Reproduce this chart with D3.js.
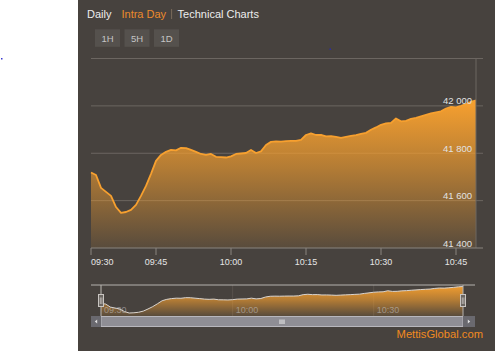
<!DOCTYPE html>
<html>
<head>
<meta charset="utf-8">
<script src="https://cdn.jsdelivr.net/npm/d3@7"></script>
<style>
  html, body { margin: 0; padding: 0; background: #fff; }
  svg { display: block; font-family: "Liberation Sans", Arial, sans-serif; }
</style>
</head>
<body>
<div id="chart"></div>
<script>
// intraday minutes (ordinal axis, two minutes missing early on)
const times = [
  "09:30","09:31","09:32","09:33","09:34","09:35","09:38","09:39","09:40","09:41","09:42","09:43","09:44",
  "09:45","09:46","09:47","09:48","09:49","09:50","09:51","09:52","09:53","09:54","09:55","09:56","09:57","09:58","09:59",
  "10:00","10:01","10:02","10:03","10:04","10:05","10:06","10:07","10:08","10:09","10:10","10:11","10:12","10:13","10:14",
  "10:15","10:16","10:17","10:18","10:19","10:20","10:21","10:22","10:23","10:24","10:25","10:26","10:27","10:28","10:29",
  "10:30","10:31","10:32","10:33","10:34","10:35","10:36","10:37","10:38","10:39","10:40","10:41","10:42","10:43","10:44",
  "10:45","10:46","10:47","10:48","10:49"
];
const values = [
  41719, 41708, 41654, 41637, 41620, 41573, 41548, 41552, 41561, 41582, 41620, 41662, 41713,
  41768, 41793, 41806, 41814, 41812, 41823, 41822, 41814, 41806, 41797, 41793, 41797, 41785, 41784, 41782,
  41787, 41797, 41799, 41801, 41814, 41801, 41808, 41835, 41848, 41850, 41849, 41851, 41852, 41852, 41856,
  41877, 41884, 41877, 41878, 41871, 41872, 41869, 41865, 41869, 41873, 41877, 41882, 41886, 41899, 41909,
  41920, 41926, 41928, 41947, 41935, 41937, 41945, 41949, 41956, 41962, 41968, 41973, 41977, 41989, 41996,
  41994, 42000, 42008, 42017, 42023
];
const yTicks = [41400, 41600, 41800, 42000, 42200];
const xTicks = ["09:30", "09:45", "10:00", "10:15", "10:30", "10:45"];
const navTicks = ["09:30", "10:00", "10:30"];
const tabs = ["Daily", "Intra Day", "Technical Charts"];
const ranges = ["1H", "5H", "1D"];

const w = 495, h = 351;
const m = {l: 91, r: 476, gr: 483, t: 58.5, b: 248};
const nav = {l: 101, r: 463, t: 285, b: 316, sl: 91, sr: 475, sb: 327};
const orange = "#f7a02f";

const svg = d3.select("#chart").append("svg")
  .attr("width", w).attr("height", h)
  .attr("viewBox", [0, 0, w, h]);

svg.append("rect").attr("width", w).attr("height", h).attr("fill", "#fff");
svg.append("rect").attr("x", 78).attr("width", w - 78).attr("height", h).attr("fill", "#47423e");
// stray dots in the screenshot
svg.append("rect").attr("x", 1).attr("y", 58).attr("width", 1.5).attr("height", 1.5).attr("fill", "#3a3ad0");
svg.append("rect").attr("x", 329.5).attr("y", 48.5).attr("width", 1.5).attr("height", 1.5).attr("fill", "#2b2ba8");

const defs = svg.append("defs");
function grad(id, top, bottom) {
  const g = defs.append("linearGradient").attr("id", id)
    .attr("x1", 0).attr("y1", 0).attr("x2", 0).attr("y2", 1);
  g.append("stop").attr("offset", 0).attr("stop-color", orange).attr("stop-opacity", top);
  g.append("stop").attr("offset", 0.45).attr("stop-color", orange).attr("stop-opacity", 0.62);
  g.append("stop").attr("offset", 1).attr("stop-color", orange).attr("stop-opacity", bottom);
}
grad("mainFill", 1, 0.1);
grad("navFill", 0.95, 0.1);

// header tabs
const gTabs = svg.append("g").attr("font-size", 11);
let tx = 87;
tabs.forEach((t, i) => {
  if (i === 2) {
    gTabs.append("line").attr("x1", tx - 6).attr("x2", tx - 6).attr("y1", 9).attr("y2", 19)
      .attr("stroke", "#7a6a5a").attr("stroke-width", 1);
  }
  const txt = gTabs.append("text").attr("x", tx).attr("y", 18)
    .attr("fill", i === 1 ? "#ec8a2c" : "#ededed").text(t);
  tx += txt.node().getComputedTextLength() + (i === 0 ? 10 : 11.5);
});

// range buttons
const gBtn = svg.append("g").selectAll("g").data(ranges).join("g")
  .attr("transform", (d, i) => `translate(${95 + i * 29.5},29.3)`);
gBtn.append("rect").attr("width", 25).attr("height", 17.5).attr("fill", "#55514d");
gBtn.append("text").attr("x", 12.5).attr("y", 12.6).attr("text-anchor", "middle")
  .attr("font-size", 9.5).attr("fill", "#c4c4c4").text(d => d);

// main chart
const x = d3.scalePoint().domain(times).range([m.l, m.r]);
const y = d3.scaleLinear().domain([41400, 42200]).range([m.b, m.t]);

svg.append("g").selectAll("line").data(yTicks.slice(1)).join("line")
  .attr("x1", m.l).attr("x2", m.gr).attr("y1", d => y(d)).attr("y2", d => y(d))
  .attr("stroke", "#6c6661").attr("stroke-width", 1);

const area = d3.area().x((d, i) => x(times[i])).y0(m.b).y1(d => y(d));
const line = d3.line().x((d, i) => x(times[i])).y(d => y(d));

svg.append("path").datum(values).attr("d", area).attr("fill", "url(#mainFill)");
svg.append("path").datum(values).attr("d", line).attr("fill", "none")
  .attr("stroke", orange).attr("stroke-width", 1.8).attr("stroke-linejoin", "round");

svg.append("line").attr("x1", m.r).attr("x2", m.r).attr("y1", m.t).attr("y2", m.b)
  .attr("stroke", "#6c6661");
svg.append("line").attr("x1", m.l).attr("x2", m.gr).attr("y1", m.b).attr("y2", m.b)
  .attr("stroke", "#8a847e");

svg.append("g").selectAll("text").data(yTicks.slice(0, -1)).join("text")
  .attr("x", 472).attr("y", d => y(d) - 1.5).attr("text-anchor", "end")
  .attr("font-size", 9.5).attr("fill", "#e2e2e2").text(d => d3.format(",")(d).replace(",", " "));

const gx = svg.append("g");
gx.selectAll("line").data(xTicks).join("line")
  .attr("x1", d => x(d)).attr("x2", d => x(d)).attr("y1", m.b).attr("y2", m.b + 7)
  .attr("stroke", "#8a847e");
gx.selectAll("text").data(xTicks).join("text")
  .attr("x", d => x(d)).attr("y", 264.5)
  .attr("text-anchor", (d, i) => i === 0 ? "start" : "middle")
  .attr("font-size", 9).attr("fill", "#e6e6e6").text(d => d);

// navigator
const nx = d3.scalePoint().domain(times).range([nav.l, nav.r]);
const ny = d3.scaleLinear().domain(d3.extent(values)).range([313, 286.5]);

svg.append("g").selectAll("line").data(navTicks).join("line")
  .attr("x1", d => nx(d)).attr("x2", d => nx(d)).attr("y1", nav.t).attr("y2", nav.b)
  .attr("stroke", "#57524d");

const navArea = d3.area().x((d, i) => nx(times[i])).y0(nav.b).y1(d => ny(d));
const navLine = d3.line().x((d, i) => nx(times[i])).y(d => ny(d));
svg.append("path").datum(values).attr("d", navArea).attr("fill", "url(#navFill)");
svg.append("path").datum(values).attr("d", navLine).attr("fill", "none")
  .attr("stroke", "#d9d4cf").attr("stroke-width", 1);

svg.append("g").selectAll("text").data(navTicks).join("text")
  .attr("x", d => nx(d) + 3).attr("y", 313).attr("font-size", 9)
  .attr("fill", "#c8c8c8").attr("fill-opacity", 0.55).text(d => d);

// navigator outline
svg.append("path")
  .attr("d", `M${nav.sl},${nav.t}H${nav.sr}M${nav.l},${nav.t}V${nav.b}M${nav.r},${nav.t}V${nav.b}`)
  .attr("fill", "none").attr("stroke", "#b5b1ad").attr("stroke-width", 1);

// scrollbar
svg.append("rect").attr("x", nav.sl).attr("y", nav.b).attr("width", nav.sr - nav.sl).attr("height", nav.sb - nav.b)
  .attr("fill", "#76757b");
svg.append("rect").attr("x", nav.l).attr("y", nav.b + 0.5).attr("width", nav.r - nav.l).attr("height", nav.sb - nav.b - 1)
  .attr("fill", "#8f8e95").attr("stroke", "#b8b7bd").attr("stroke-width", 1);
[[nav.sl, 1], [nav.r, -1]].forEach(([bx, dir], i) => {
  const bw = i === 0 ? nav.l - nav.sl : nav.sr - nav.r;
  svg.append("rect").attr("x", bx).attr("y", nav.b).attr("width", bw).attr("height", nav.sb - nav.b)
    .attr("fill", "#6a696f");
  const cx = bx + bw / 2, cy = (nav.b + nav.sb) / 2;
  svg.append("path").attr("d", `M${cx + dir * 1.2},${cy - 2}L${cx - dir * 1.2},${cy}L${cx + dir * 1.2},${cy + 2}Z`)
    .attr("fill", "#e0e0e0");
});
const gripX = (nav.l + nav.r) / 2;
svg.append("g").selectAll("line").data([-2, 0, 2]).join("line")
  .attr("x1", d => gripX + d).attr("x2", d => gripX + d).attr("y1", 319.5).attr("y2", 324)
  .attr("stroke", "#eee").attr("stroke-width", 1);

// handles
[nav.l, nav.r].forEach(hx => {
  svg.append("rect").attr("x", hx - 2.5).attr("y", 294.5).attr("width", 5).attr("height", 12)
    .attr("fill", "#6b6661").attr("stroke", "#c9c5c1").attr("stroke-width", 1);
  svg.append("path").attr("d", `M${hx - 0.7},297.5V304M${hx + 0.9},297.5V304`)
    .attr("stroke", "#c9c5c1").attr("stroke-width", 0.8);
});

// brand
svg.append("text").attr("x", 483).attr("y", 338).attr("text-anchor", "end")
  .attr("font-size", 11.2).attr("fill", "#f28a1e").text("MettisGlobal.com");
</script>
</body>
</html>
